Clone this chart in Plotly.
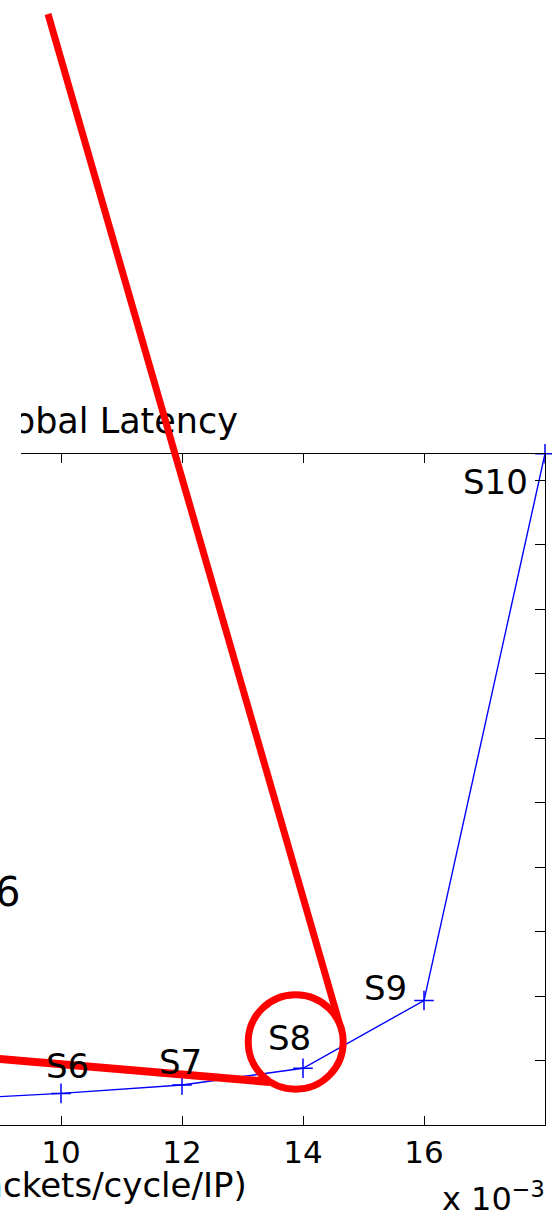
import plotly.graph_objects as go

# ---------------- data ----------------
stage_labels = ["S5", "S6", "S7", "S8", "S9", "S10"]
injection_rate = [0.008, 0.010, 0.012, 0.014, 0.016, 0.018]      # packets/cycle/IP
global_latency = [23.9, 24.9, 26.2, 28.8, 39.3, 124.1]          # cycles
x_tick_vals = [0.008, 0.010, 0.012, 0.014, 0.016]
x_tick_text = ["8", "10", "12", "14", "16"]
y_tick_vals = [20, 30, 40, 50, 60, 70, 80, 90, 100, 110, 120]
title_text = "Global Latency"
x_title_text = "Injection Rate (packets/cycle/IP)"

# ---------------- layout constants (pixels of the 552x1216 page) ----------------
W, H = 552, 1216
PLOT_RIGHT, PLOT_TOP, PLOT_BOTTOM = 545, 453.7, 1125
CROP_LEFT = 21                         # upper part of the picture is cut at this x
PX_PER_UNIT = 60.5 / 0.001             # horizontal pixels per 1 packet/cycle/IP
FONT = "DejaVu Sans"

x_hi = injection_rate[-1]
x_lo = x_hi - PLOT_RIGHT / PX_PER_UNIT
y_lo, y_hi = y_tick_vals[0], global_latency[-1]

# label offsets (pixels) relative to each point
label_dx = [6, 6, -1.3, -13.3, -39, -49.5]
label_dy = [27, 27, 22.8, 30, 12.7, -28.3]


def px(xp):
    return xp / W


def py(yp):
    return 1 - yp / H


fig = go.Figure()
fig.add_trace(go.Scatter(
    x=injection_rate, y=global_latency, mode="lines+markers",
    line=dict(color="#0000ff", width=1.4),
    marker=dict(symbol="cross-thin", size=14, line=dict(color="#0000ff", width=1.5)),
    cliponaxis=False, showlegend=False, hoverinfo="skip",
))

# title, drawn in a small strip that starts at the crop edge (so it is cut there)
fig.add_trace(go.Scatter(
    x=[238], y=[0.5], xaxis="x3", yaxis="y3",
    mode="text", text=[title_text], textposition="middle left",
    textfont=dict(family=FONT, size=35, color="black"),
    cliponaxis=True, showlegend=False, hoverinfo="skip",
))

for lab, xv, yv, dx, dy in zip(stage_labels, injection_rate, global_latency, label_dx, label_dy):
    if xv < x_lo:
        continue
    fig.add_annotation(x=xv, y=yv, xref="x", yref="y", text=lab, showarrow=False,
                       xanchor="center", yanchor="middle", xshift=dx, yshift=dy,
                       font=dict(family=FONT, size=34, color="black"))

fig.add_annotation(x=px(249), y=py(1185), xref="paper", yref="paper",
                   text=x_title_text,
                   showarrow=False, xanchor="right", yanchor="middle",
                   font=dict(family=FONT, size=34, color="black"))
fig.add_annotation(x=px(440), y=py(1197), xref="paper", yref="paper",
                   text="x 10<sup>\u22123</sup>",
                   showarrow=False, xanchor="left", yanchor="middle",
                   font=dict(family=FONT, size=32, color="black"))
fig.add_annotation(x=px(22), y=py(892), xref="paper", yref="paper", text="6",
                   showarrow=False, xanchor="right", yanchor="middle",
                   font=dict(family=FONT, size=40, color="black"))

# crop edge of the upper part of the picture (hides the left end of the top axis)
fig.add_shape(type="rect", xref="paper", yref="paper", layer="above",
              x0=px(-2), x1=px(CROP_LEFT), y0=py(470), y1=py(380),
              line=dict(width=0), fillcolor="white")

# red hand-drawn call-out (page pixels)
RED = "#ff0000"
fig.add_shape(type="line", xref="paper", yref="paper",
              x0=px(48), y0=py(14), x1=px(339), y1=py(1022),
              line=dict(color=RED, width=7))
fig.add_shape(type="line", xref="paper", yref="paper",
              x0=px(-5), y0=py(1058.6), x1=px(270), y1=py(1082),
              line=dict(color=RED, width=8))
fig.add_shape(type="circle", xref="paper", yref="paper",
              x0=px(248.2), y0=py(1089.2), x1=px(343.2), y1=py(994.8),
              line=dict(color=RED, width=7))

axis_common = dict(showline=True, linecolor="black", linewidth=1.3,
                   ticks="inside", tickwidth=1.3, tickcolor="black",
                   showgrid=False, zeroline=False, automargin=False)

fig.update_layout(
    width=W, height=H, template="none",
    margin=dict(l=0, r=0, t=0, b=0, pad=0),
    paper_bgcolor="white", plot_bgcolor="white",
    xaxis=dict(domain=[0, PLOT_RIGHT / W], range=[x_lo, x_hi], mirror="ticks",
               ticklen=9, tickvals=x_tick_vals, ticktext=x_tick_text,
               tickfont=dict(family=FONT, size=31, color="black"), **axis_common),
    yaxis=dict(domain=[1 - PLOT_BOTTOM / H, 1 - PLOT_TOP / H], range=[y_lo, y_hi],
               side="right", ticklen=10, tickvals=y_tick_vals,
               showticklabels=False, **axis_common),
    xaxis3=dict(domain=[CROP_LEFT / W, 1], range=[CROP_LEFT, W], anchor="y3",
                visible=False, fixedrange=True),
    yaxis3=dict(domain=[1 - 449 / H, 1 - 399 / H], range=[0, 1], anchor="x3",
                visible=False, fixedrange=True),
    showlegend=False,
)

fig.write_html("out.html", config={"displayModeBar": False},
               post_script="document.body.style.margin='0px';")
